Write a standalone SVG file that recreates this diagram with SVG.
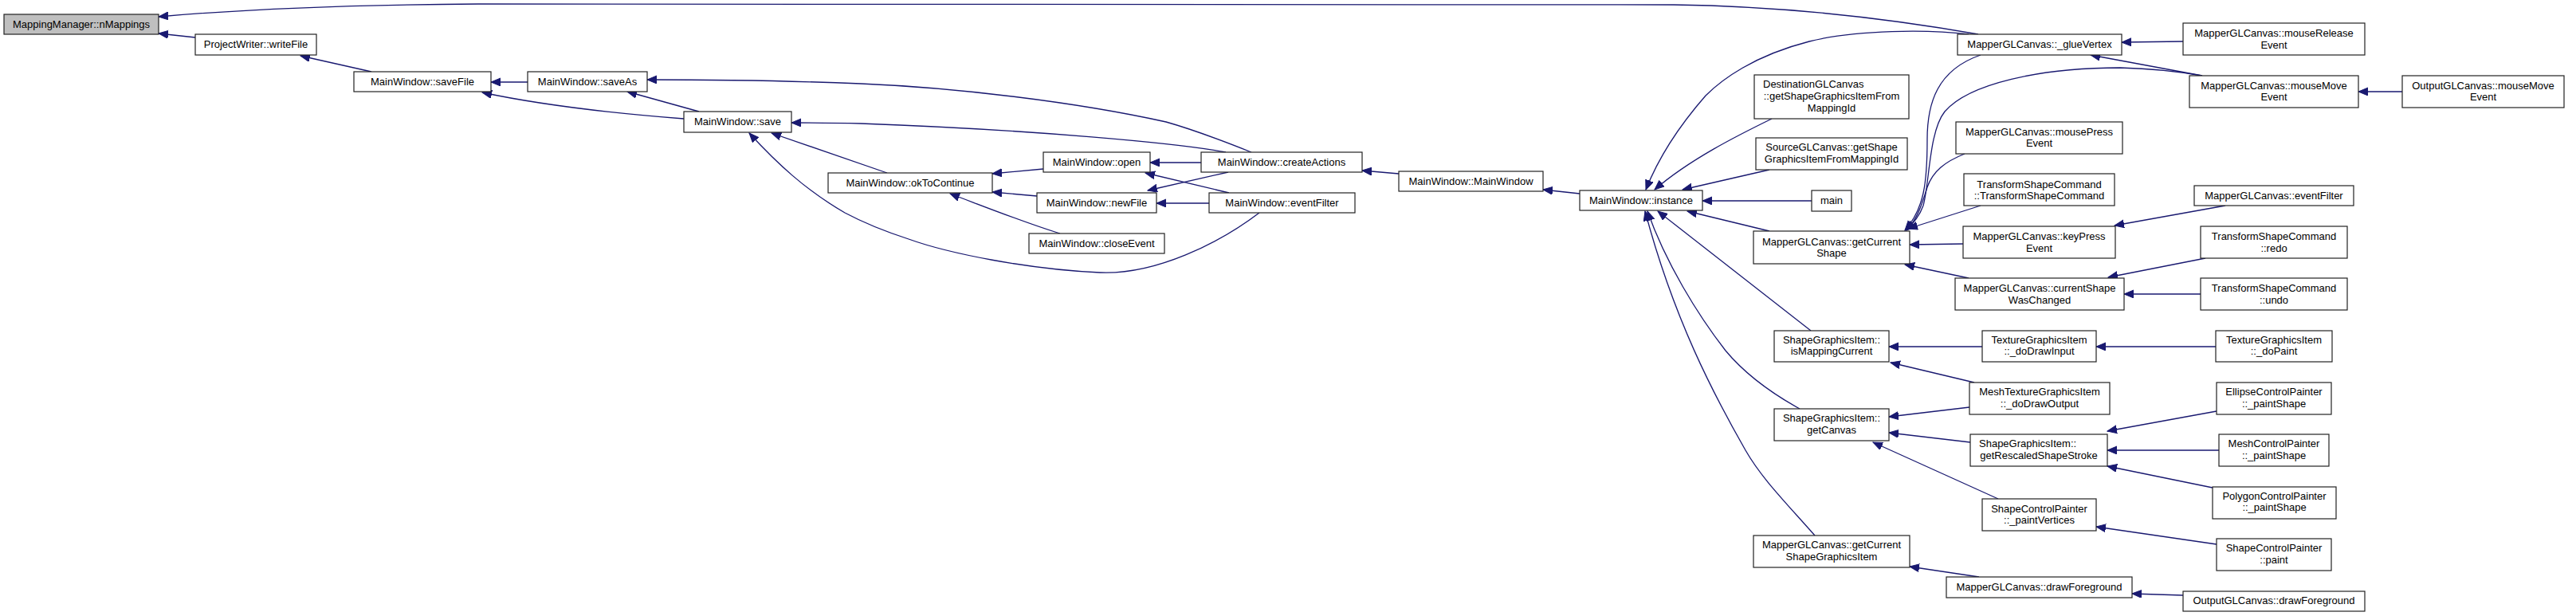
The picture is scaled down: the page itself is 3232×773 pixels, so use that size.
<svg xmlns="http://www.w3.org/2000/svg" width="3232" height="773" viewBox="0 0 3232 773">
<style>
.n rect{fill:#fff;stroke:#222;stroke-width:1.2}
.n.root rect{fill:#bfbfbf}
.n text{font-family:"Liberation Sans",Arial,sans-serif;font-size:13px;fill:#000;text-anchor:middle}
.n text.l{text-anchor:start}
#edges path{fill:none;stroke:#191970;stroke-width:1.3;marker-end:url(#ah)}
</style>
<defs>
<marker id="ah" markerUnits="userSpaceOnUse" markerWidth="13" markerHeight="11" refX="12" refY="5" orient="auto">
<path d="M0,0 L12,5 L0,10 z" fill="#191970" stroke="#191970" stroke-width="1"/>
</marker>
</defs>
<rect width="3232" height="773" fill="#fff"/>
<g id="edges">
<path d="M2482,43 C2380,25 2250,8 2100,6 L600,5 C420,6 300,12 199,21"/>
<path d="M245,47 L199,42"/>
<path d="M466,90 L377,70"/>
<path d="M662,103 L616,103"/>
<path d="M858,149 C780,143 680,132 605,116"/>
<path d="M877,140 L787,115"/>
<path d="M1570,191 C1530,175 1495,162 1463,153 C1350,128 1200,110 1080,105 C960,100 880,100 812,100"/>
<path d="M1538,191 C1480,180 1300,163 1080,155 C1045,154 1015,154 993,154"/>
<path d="M1580,267 C1530,305 1450,345 1380,342 C1290,338 1190,318 1140,300 C1100,287 1075,275 1060,267 C1010,238 975,205 940,167"/>
<path d="M1113,217 L968,167"/>
<path d="M1309,212 L1245,218"/>
<path d="M1301,246 L1245,241"/>
<path d="M1330,293 C1290,281 1250,265 1192,243"/>
<path d="M1507,204 L1443,204"/>
<path d="M1541,216 L1440,239"/>
<path d="M1542,242 L1437,217"/>
<path d="M1517,255 L1451,255"/>
<path d="M1755,218 L1709,214"/>
<path d="M1982,243 L1936,238"/>
<path d="M2470,43 C2420,37 2330,37 2270,52 C2200,70 2160,100 2140,120 C2105,160 2080,200 2065,238"/>
<path d="M2223,149 C2180,170 2120,200 2076,238"/>
<path d="M2220,213 L2111,238"/>
<path d="M2273,252 L2136,252"/>
<path d="M2220,290 L2117,265"/>
<path d="M2272,415 L2080,265"/>
<path d="M2258,513 C2220,492 2190,470 2165,440 C2130,395 2090,330 2067,265"/>
<path d="M2277,672 C2240,630 2210,600 2190,565 C2150,495 2100,400 2064,265"/>
<path d="M2739,52 L2662,53"/>
<path d="M2763,95 L2623,69"/>
<path d="M3014,115 L2959,115"/>
<path d="M2485,69 C2430,88 2418,130 2418,175 C2418,230 2414,262 2390,289"/>
<path d="M2763,95 C2730,89 2700,86 2660,85 C2560,85 2470,105 2440,140 C2420,165 2421,230 2413,258 C2408,272 2400,281 2391,289"/>
<path d="M2465,193 C2440,203 2425,215 2418,235 C2412,255 2405,276 2392,289"/>
<path d="M2485,258 L2394,287"/>
<path d="M2463,306 L2396,307"/>
<path d="M2470,349 L2390,332"/>
<path d="M2792,258 L2653,283"/>
<path d="M2767,324 L2645,348"/>
<path d="M2761,369 L2665,369"/>
<path d="M2487,435 L2370,435"/>
<path d="M2477,480 L2372,455"/>
<path d="M2780,435 L2630,435"/>
<path d="M2471,511 L2370,523"/>
<path d="M2472,555 L2370,543"/>
<path d="M2507,626 L2350,555"/>
<path d="M2781,516 L2644,541"/>
<path d="M2784,565 L2644,565"/>
<path d="M2776,612 L2644,585"/>
<path d="M2781,683 L2630,661"/>
<path d="M2483,724 L2396,711"/>
<path d="M2739,747 L2675,745"/>
</g>
<g id="n0" class="n root"><rect x="5" y="18" width="194" height="25"/><text x="102" y="34.5">MappingManager::nMappings</text></g>
<g id="n1" class="n"><rect x="245" y="43" width="152" height="26"/><text x="321" y="60">ProjectWriter::writeFile</text></g>
<g id="n2" class="n"><rect x="444" y="90" width="172" height="25"/><text x="530" y="107">MainWindow::saveFile</text></g>
<g id="n3" class="n"><rect x="662" y="90" width="150" height="25"/><text x="737" y="107">MainWindow::saveAs</text></g>
<g id="n4" class="n"><rect x="858" y="140" width="135" height="26"/><text x="925.5" y="157">MainWindow::save</text></g>
<g id="n5" class="n"><rect x="1039" y="217" width="206" height="25"/><text x="1142" y="234">MainWindow::okToContinue</text></g>
<g id="n6" class="n"><rect x="1309" y="191" width="134" height="25"/><text x="1376" y="208">MainWindow::open</text></g>
<g id="n7" class="n"><rect x="1301" y="242" width="150" height="25"/><text x="1376" y="259">MainWindow::newFile</text></g>
<g id="n8" class="n"><rect x="1291" y="293" width="170" height="25"/><text x="1376" y="310">MainWindow::closeEvent</text></g>
<g id="n9" class="n"><rect x="1507" y="191" width="202" height="25"/><text x="1608" y="208">MainWindow::createActions</text></g>
<g id="n10" class="n"><rect x="1517" y="242" width="183" height="25"/><text x="1608.5" y="259">MainWindow::eventFilter</text></g>
<g id="n11" class="n"><rect x="1755" y="215" width="181" height="25"/><text x="1845.5" y="232">MainWindow::MainWindow</text></g>
<g id="n12" class="n"><rect x="1982" y="239" width="154" height="25"/><text x="2059" y="256">MainWindow::instance</text></g>
<g id="n13" class="n"><rect x="2456" y="43" width="206" height="26"/><text x="2559" y="60">MapperGLCanvas::_glueVertex</text></g>
<g id="n14" class="n"><rect x="2201" y="94" width="194" height="55"/><text class="l" x="2212" y="110">DestinationGLCanvas</text><text x="2298" y="125">::getShapeGraphicsItemFrom</text><text x="2298" y="140">MappingId</text></g>
<g id="n15" class="n"><rect x="2203" y="173" width="190" height="40"/><text x="2298" y="189">SourceGLCanvas::getShape</text><text x="2298" y="204">GraphicsItemFromMappingId</text></g>
<g id="n16" class="n"><rect x="2273" y="239" width="50" height="26"/><text x="2298" y="256">main</text></g>
<g id="n17" class="n"><rect x="2200" y="290" width="196" height="41"/><text x="2298" y="307.5">MapperGLCanvas::getCurrent</text><text x="2298" y="321.5">Shape</text></g>
<g id="n18" class="n"><rect x="2454" y="153" width="209" height="40"/><text x="2558.5" y="169.5">MapperGLCanvas::mousePress</text><text x="2558.5" y="184">Event</text></g>
<g id="n19" class="n"><rect x="2464" y="218" width="189" height="40"/><text x="2558.5" y="235.5">TransformShapeCommand</text><text x="2558.5" y="249.5">::TransformShapeCommand</text></g>
<g id="n20" class="n"><rect x="2463" y="284" width="191" height="40"/><text x="2558.5" y="300.5">MapperGLCanvas::keyPress</text><text x="2558.5" y="315.5">Event</text></g>
<g id="n21" class="n"><rect x="2453" y="349" width="212" height="40"/><text x="2559" y="365.5">MapperGLCanvas::currentShape</text><text x="2559" y="380.5">WasChanged</text></g>
<g id="n22" class="n"><rect x="2739" y="29" width="228" height="40"/><text x="2853" y="45.5">MapperGLCanvas::mouseRelease</text><text x="2853" y="60.5">Event</text></g>
<g id="n23" class="n"><rect x="2747" y="95" width="212" height="40"/><text x="2853" y="111.5">MapperGLCanvas::mouseMove</text><text x="2853" y="125.5">Event</text></g>
<g id="n24" class="n"><rect x="3014" y="95" width="203" height="40"/><text x="3115.5" y="111.5">OutputGLCanvas::mouseMove</text><text x="3115.5" y="125.5">Event</text></g>
<g id="n25" class="n"><rect x="2753" y="233" width="200" height="25"/><text x="2853" y="249.5">MapperGLCanvas::eventFilter</text></g>
<g id="n26" class="n"><rect x="2761" y="284" width="184" height="40"/><text x="2853" y="300.5">TransformShapeCommand</text><text x="2853" y="315.5">::redo</text></g>
<g id="n27" class="n"><rect x="2761" y="349" width="184" height="40"/><text x="2853" y="365.5">TransformShapeCommand</text><text x="2853" y="380.5">::undo</text></g>
<g id="n28" class="n"><rect x="2226" y="415" width="144" height="39"/><text x="2298" y="431">ShapeGraphicsItem::</text><text x="2298" y="445">isMappingCurrent</text></g>
<g id="n29" class="n"><rect x="2487" y="415" width="143" height="39"/><text x="2558.5" y="431">TextureGraphicsItem</text><text x="2558.5" y="445">::_doDrawInput</text></g>
<g id="n30" class="n"><rect x="2471" y="480" width="176" height="40"/><text x="2559" y="496">MeshTextureGraphicsItem</text><text x="2559" y="511">::_doDrawOutput</text></g>
<g id="n31" class="n"><rect x="2226" y="513" width="144" height="40"/><text x="2298" y="529">ShapeGraphicsItem::</text><text x="2298" y="544">getCanvas</text></g>
<g id="n32" class="n"><rect x="2472" y="545" width="172" height="40"/><text class="l" x="2483" y="561">ShapeGraphicsItem::</text><text x="2558" y="576">getRescaledShapeStroke</text></g>
<g id="n33" class="n"><rect x="2487" y="626" width="143" height="40"/><text x="2558.5" y="643">ShapeControlPainter</text><text x="2558.5" y="657">::_paintVertices</text></g>
<g id="n34" class="n"><rect x="2200" y="672" width="196" height="40"/><text x="2298" y="688">MapperGLCanvas::getCurrent</text><text x="2298" y="702.5">ShapeGraphicsItem</text></g>
<g id="n35" class="n"><rect x="2442" y="724" width="233" height="26"/><text x="2558.5" y="741">MapperGLCanvas::drawForeground</text></g>
<g id="n36" class="n"><rect x="2780" y="415" width="146" height="39"/><text x="2853" y="431">TextureGraphicsItem</text><text x="2853" y="445">::_doPaint</text></g>
<g id="n37" class="n"><rect x="2781" y="480" width="144" height="40"/><text x="2853" y="496">EllipseControlPainter</text><text x="2853" y="511">::_paintShape</text></g>
<g id="n38" class="n"><rect x="2784" y="545" width="138" height="40"/><text x="2853" y="561">MeshControlPainter</text><text x="2853" y="576">::_paintShape</text></g>
<g id="n39" class="n"><rect x="2776" y="611" width="155" height="40"/><text x="2853.5" y="627">PolygonControlPainter</text><text x="2853.5" y="641">::_paintShape</text></g>
<g id="n40" class="n"><rect x="2781" y="676" width="144" height="40"/><text x="2853" y="692">ShapeControlPainter</text><text x="2853" y="706.5">::paint</text></g>
<g id="n41" class="n"><rect x="2739" y="742" width="228" height="25"/><text x="2853" y="758">OutputGLCanvas::drawForeground</text></g>
</svg>
